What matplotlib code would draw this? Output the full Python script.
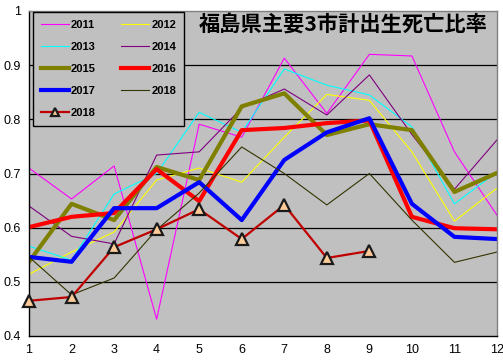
import matplotlib
matplotlib.use('Agg')
import matplotlib.pyplot as plt
from matplotlib.ticker import FuncFormatter

# 月
months = list(range(1, 13))

# 各年の出生死亡比率
y2011 = [0.710, 0.653, 0.714, 0.431, 0.791, 0.767, 0.913, 0.811, 0.920, 0.917, 0.740, 0.623]
y2012 = [0.514, 0.555, 0.592, 0.688, 0.710, 0.684, 0.767, 0.846, 0.835, 0.740, 0.612, 0.673]
y2013 = [0.566, 0.540, 0.662, 0.700, 0.813, 0.776, 0.893, 0.863, 0.845, 0.786, 0.644, 0.703]
y2014 = [0.640, 0.584, 0.570, 0.734, 0.740, 0.821, 0.856, 0.808, 0.882, 0.772, 0.671, 0.762]
y2015 = [0.537, 0.644, 0.614, 0.712, 0.688, 0.824, 0.848, 0.771, 0.791, 0.780, 0.666, 0.701]
y2016 = [0.601, 0.620, 0.627, 0.708, 0.649, 0.780, 0.784, 0.793, 0.798, 0.620, 0.599, 0.597]
y2017 = [0.546, 0.537, 0.636, 0.636, 0.684, 0.614, 0.725, 0.776, 0.802, 0.644, 0.583, 0.579]
y2018a = [0.546, 0.476, 0.507, 0.596, 0.664, 0.749, 0.700, 0.642, 0.700, 0.614, 0.536, 0.555]
y2018b = [0.465, 0.472, 0.564, 0.597, 0.634, 0.579, 0.642, 0.544, 0.557]

title = '福島県主要3市計出生死亡比率'

plt.rcParams['font.family'] = ['Liberation Sans', 'DejaVu Sans']

fig = plt.figure(figsize=(5.03, 3.60), dpi=100)
W, H = 503, 360
ax = fig.add_axes([29 / W, 1 - 336 / H, 468 / W, 325 / H])
ax.set_facecolor('#C0C0C0')

thin = 0.8
thick = 3.0
l11, = ax.plot(months, y2011, color='#FF00FF', lw=thin)
l12, = ax.plot(months, y2012, color='#FFFF00', lw=thin)
l13, = ax.plot(months, y2013, color='#00FFFF', lw=thin)
l14, = ax.plot(months, y2014, color='#800080', lw=thin)
l15, = ax.plot(months, y2015, color='#808000', lw=thick)
l16, = ax.plot(months, y2016, color='#FF0000', lw=thick)
l17, = ax.plot(months, y2017, color='#0000FF', lw=thick)
l18a, = ax.plot(months, y2018a, color='#333300', lw=thin)
l18b, = ax.plot(months[:len(y2018b)], y2018b, color='#C00000', lw=1.6,
                marker='^', markersize=9, markerfacecolor='#FFCC99',
                markeredgecolor='#1a1a1a', markeredgewidth=1.6, clip_on=False,
                zorder=5)

ax.set_xlim(1, 12)
ax.set_ylim(0.4, 1.0)
ax.set_xticks(months)
ax.set_yticks([0.4, 0.5, 0.6, 0.7, 0.8, 0.9, 1.0])
ax.yaxis.set_major_formatter(FuncFormatter(lambda v, p: '%g' % round(v, 2)))
ax.tick_params(length=0, labelsize=9, pad=6)

for v in [0.5, 0.6, 0.7, 0.8, 0.9]:
    ax.axhline(v, color='black', lw=0.9, zorder=0.5)

ax.spines['left'].set_color('black')
ax.spines['bottom'].set_color('black')
ax.spines['top'].set_color('#808080')
ax.spines['right'].set_color('#808080')
for s in ax.spines.values():
    s.set_linewidth(1.0)

# 凡例（行ごとに 2011,2012 / 2013,2014 ... の並び）
handles = [l11, l13, l15, l17, l18b, l12, l14, l16, l18a]
labels = ['2011', '2013', '2015', '2017', '2018', '2012', '2014', '2016', '2018']
leg = ax.legend(handles, labels, ncol=2, loc='upper left',
                bbox_to_anchor=(4 / 468, 1 - 1 / 325), borderaxespad=0,
                frameon=True, fancybox=False, facecolor='#C0C0C0',
                edgecolor='black', framealpha=1,
                prop={'family': 'Liberation Sans', 'weight': 'bold', 'size': 8},
                handlelength=2.5, handletextpad=0.2, labelspacing=1.08,
                columnspacing=2.3, borderpad=0.7)
leg.get_frame().set_linewidth(1.0)
for h in leg.legend_handles:
    h.set_markersize(6)

fig.text(488 / W, 1 - 24 / H, title, ha='right', va='center',
         fontsize=15.3, fontweight='bold',
         family=['Noto Sans CJK JP', 'DejaVu Sans'])

fig.savefig('out.png', dpi=100, facecolor='white')
